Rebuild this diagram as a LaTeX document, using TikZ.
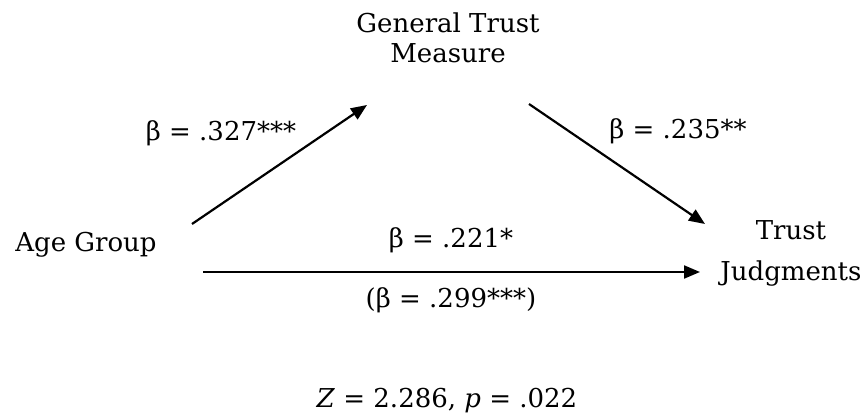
\documentclass[tikz,border=0pt]{standalone}
\usepackage{fontspec}
\setmainfont{DejaVu Serif}
\usetikzlibrary{arrows.meta}
\tikzset{
  lbl/.style={font=\fontsize{26}{30}\selectfont, inner sep=0pt, align=center},
  conn/.style={line width=2.2pt, -{Triangle[length=16pt,width=13pt]}}
}
\begin{document}
\begin{tikzpicture}[x=1pt,y=-1pt]
\useasboundingbox (0,0) rectangle (868,419);
\node[lbl, anchor=north] (gtm) at (448,13) {General Trust\\Measure};
\node[lbl, anchor=base] (age) at (86,252) {Age Group};
\node[lbl, anchor=north] (tj) at (791,220) {Trust\\[11pt]Judgments};
\node[lbl, anchor=base] (b1) at (221,141) {β = .327***};
\node[lbl, anchor=base] (b2) at (678,139) {β = .235**};
\node[lbl, anchor=base] (b3) at (451,248) {β = .221*};
\node[lbl, anchor=base] (b4) at (451,308) {(β = .299***)};
\node[lbl, anchor=base] (z) at (447,408) {\textit{Z} = 2.286, \textit{p} = .022};
\coordinate (a1s) at (192,224);
\coordinate (a1e) at (367,105);
\coordinate (a2s) at (529,104);
\coordinate (a2e) at (705,224);
\coordinate (a3s) at (203,272);
\coordinate (a3e) at (700,272);
\draw[conn] (a1s) -- (a1e);
\draw[conn] (a2s) -- (a2e);
\draw[conn] (a3s) -- (a3e);
\end{tikzpicture}
\end{document}
